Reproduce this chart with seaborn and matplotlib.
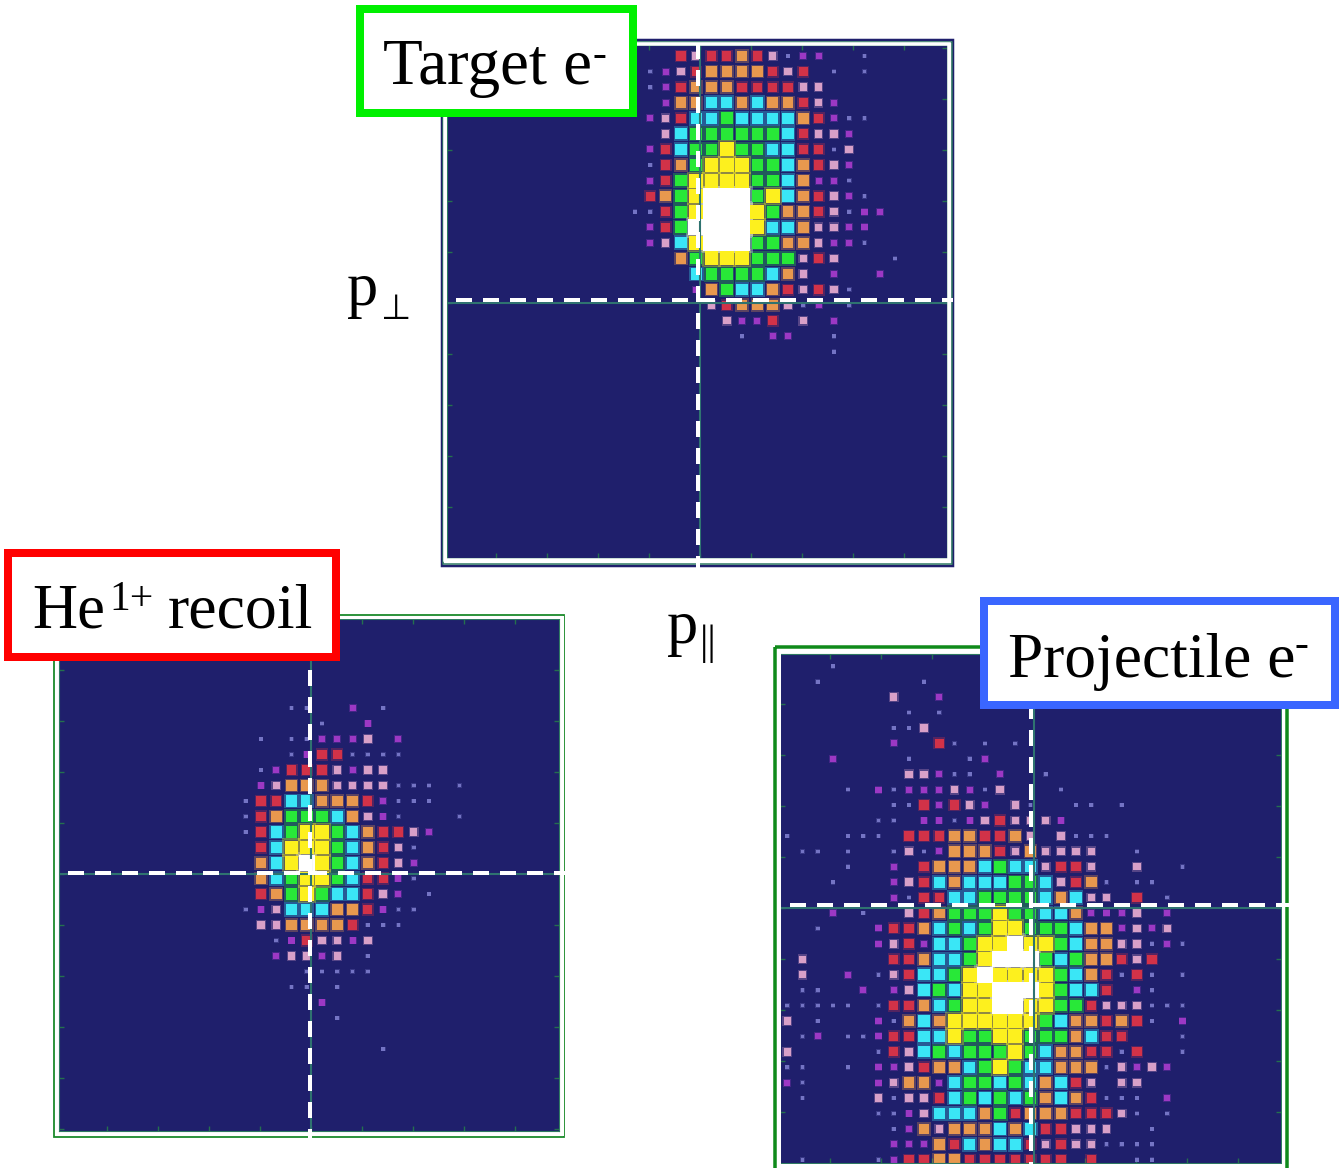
import matplotlib
matplotlib.use("Agg")
import matplotlib.pyplot as plt
from matplotlib.patches import Rectangle
import numpy as np
import pandas as pd
import seaborn as sns

W, H = 1339, 1168

# one string per detector row, one digit per bin (0 = empty ... 9 = saturated)
target_rows = [
    "000434454312200100", "012345555434010100", "012455544443300000",
    "002556656554320000", "023466766665421100", "003677777764332000",
    "024677877664413000", "014578887765432000", "024788887765221000",
    "045789997865432100", "114789998755431220", "024799998665332200",
    "023689997755322100", "000578887773430001", "000067777653020020",
    "000025766543431000", "000003455531201000", "000000322403020000",
    "000000010220010000", "000000000000010000",
]
recoil_rows = [
    "000110020100000", "000001002000000", "010112223020000",
    "000124411110000", "012444323300000", "023555333311101",
    "144665554211100", "145777653210001", "146788765443200",
    "046888765431000", "056898765432000", "056788764421000",
    "045787664320100", "123666554211000", "033555541110000",
    "001243323000000", "002332301000000", "000011111000000",
    "000110100000000", "000002000000000", "000000100000000",
    "000000000000000", "000000000100000",
]
projectile_rows = [
    "0001", "0010000001", "00000003002", "000000001010",
    "0000000113", "0000000200410101", "00020000100012",
    "000000003321102001", "0000102122232130001",
    "00000001142432031001101", "0000001102212343332",
    "1000111044455445303111", "011010013125554353333001",
    "000010020455567663443003001", "0001000234656667763451011",
    "00000002144667777656330401", "00020100345777877665222302",
    "00100024456767887776552323", "000000234266788988765533121",
    "0300000445667899976755434", "030020134667898888765414101",
    "0110020236768899987664021", "111110144567889988774333111",
    "301000215658888887655454102", "012011244668778877756440001",
    "300000143676777876554414001", "11001022345567876655513232",
    "210000235526776765643033", "01000031334676767565411102",
    "00000011236665745554443101", "0000000125355565644333001",
    "0000000222546566434331111", "0100001244554444444040011",
]

level_colors = {1: "#7474c4", 2: "#9c38c4", 3: "#d8a0c8", 4: "#d23248", 5: "#e8984e",
                6: "#3ae6f6", 7: "#28e838", 8: "#fdf01e", 9: "#ffffff"}
level_sizes = {1: 7, 2: 19, 3: 29, 4: 44, 5: 58, 6: 66, 7: 70, 8: 100, 9: 135}
NAVY = "#1f1f6c"


def rows_to_frame(rows):
    recs = []
    for r, row in enumerate(rows):
        for c, ch in enumerate(row):
            if ch != "0":
                recs.append((c, r, int(ch)))
    df = pd.DataFrame(recs, columns=["col", "row", "level"])
    return df.sort_values("level", kind="stable")


def px_axes(fig, left, top, right, bottom):
    return fig.add_axes([left / W, 1 - bottom / H, (right - left) / W, (bottom - top) / H])


def draw_panel(fig, rows, box, grid, cross):
    left, top, right, bottom = box
    x0, dx, y0, dy = grid
    ax = px_axes(fig, left, top, right, bottom)
    ax.set_facecolor(NAVY)
    df = rows_to_frame(rows)
    # soft halo first, the source image is a blown up bitmap
    halo = {k: v * 1.7 for k, v in level_sizes.items()}
    sns.scatterplot(data=df, x="col", y="row", hue="level", size="level", palette=level_colors,
                    sizes=halo, marker="s", linewidth=0, alpha=0.3, legend=False, ax=ax)
    sns.scatterplot(data=df, x="col", y="row", hue="level", size="level", palette=level_colors,
                    sizes=level_sizes, marker="s", linewidth=0, legend=False, ax=ax)
    ax.set_xlabel("")
    ax.set_ylabel("")
    # the solid axis lines of the original plot
    ax.axvline((cross[0] - x0) / dx, color="#2f7370", lw=1.5)
    ax.axhline((cross[1] - y0) / dy, color="#2f7370", lw=1.5)
    ax.set_xticks((np.arange(cross[0] % 51, right, 51) - x0) / dx)
    ax.set_yticks((np.arange(cross[1] % 51, bottom, 51) - y0) / dy)
    ax.set_xticklabels([])
    ax.set_yticklabels([])
    ax.tick_params(direction="in", length=3.5, width=1, color="#24704e",
                   top=True, right=True, bottom=True, left=True)
    ax.set_xlim((left - x0) / dx, (right - x0) / dx)
    ax.set_ylim((bottom - y0) / dy, (top - y0) / dy)
    for s in ax.spines.values():
        s.set_color("#2f7a62")
        s.set_linewidth(0.8)
    return ax


sns.set_theme(style="white")
plt.rcParams["font.family"] = ["Liberation Serif", "DejaVu Sans"]

fig = plt.figure(figsize=(W / 100, H / 100), dpi=100, facecolor="white")

draw_panel(fig, target_rows, (447, 45, 947, 558), (635, 15.3, 56, 15.57), (700, 303))
draw_panel(fig, recoil_rows, (58.5, 619, 559, 1131), (245.7, 15.27, 708, 15.5), (311, 873.5))
draw_panel(fig, projectile_rows, (780, 654, 1281, 1163), (787.3, 15.2, 666.3, 15.42), (1034, 908))

# overlay in picture pixels for frames, crosshairs and labels
ov = fig.add_axes([0, 0, 1, 1], zorder=5)
ov.set_xlim(0, W)
ov.set_ylim(H, 0)
ov.axis("off")


def frame(x1, y1, x2, y2, color, px):
    ov.add_patch(Rectangle((x1, y1), x2 - x1, y2 - y1, fill=False, edgecolor=color, lw=px * 0.72))


frame(441.5, 39.5, 953, 566, NAVY, 2.5)
frame(443, 42, 951.5, 563.5, "#2f7a62", 1.5)
frame(445, 43.5, 949, 560, "white", 3.5)
frame(53.5, 614.5, 564, 1137, "#1a8a2a", 1.8)
frame(56, 617, 561.5, 1134, "white", 3)
frame(774.5, 646.5, 1287, 1190, "#0f8a1a", 3.5)
frame(778.5, 651, 1283, 1165, "white", 3)


def dash_run(start, stop, phase):
    # 16 px on, 11 px off, phase is where one dash begins
    first = phase - 27 * np.ceil((phase - start) / 27)
    return [(max(a, start), min(a + 16, stop)) for a in np.arange(first, stop, 27)]


def hdash(x1, x2, y, phase):
    for a, b in dash_run(x1, x2, phase):
        ov.plot([a, b], [y, y], color="white", lw=4 * 0.72, solid_capstyle="butt")


def vdash(y1, y2, x, phase):
    for a, b in dash_run(y1, y2, phase):
        ov.plot([x, x], [a, b], color="white", lw=4 * 0.72, solid_capstyle="butt")


hdash(447, 953, 300, 456)
vdash(44, 568, 698, 70)
hdash(68, 565, 873, 68)
vdash(660, 1138, 310, 670)
hdash(780, 1289, 905, 790)
vdash(708, 1168, 1031, 730)

# label boxes
for x1, y1, x2, y2, col in [(360, 9, 633, 113, "#00f000"), (8, 553, 336, 657, "#ff0000"),
                            (984, 601, 1335, 705, "#3a66ff")]:
    ov.add_patch(Rectangle((x1, y1), x2 - x1, y2 - y1, facecolor="white", edgecolor=col,
                           lw=8 * 0.72, zorder=6))


def label(x, y, s, size):
    ov.text(x, y, s, fontsize=size, color="black", ha="left", va="baseline", zorder=7)


label(383, 84, "Target e", 46.8)
label(592, 66, "-", 30)
label(32, 628, "He", 45)
label(109, 610, "1+", 30)
label(168, 628, "recoil", 46)
label(1008, 677, "Projectile e", 45.7)
label(1295, 656, "-", 30)
label(347, 305, "p", 45)
label(381, 319, "⊥", 25)
label(667, 643, "p", 45)
label(700, 654, "||", 30)

fig.savefig("out.png", dpi=100)
